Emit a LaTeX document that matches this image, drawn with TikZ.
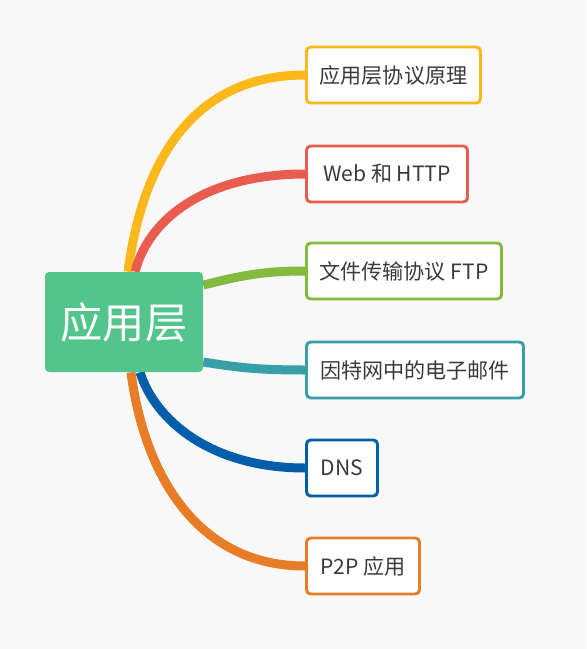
\documentclass[tikz,border=0pt]{standalone}
\usepackage{fontspec}
\setmainfont{Noto Sans CJK SC}
\usetikzlibrary{positioning}
\usetikzlibrary{calc}
\usetikzlibrary{backgrounds}
\def\pxu{0.025cm}
\definecolor{bggrey}{HTML}{F8F8F8}
\definecolor{textgrey}{HTML}{3A3A3A}
\definecolor{rootgreen}{HTML}{52C48C}
\definecolor{cyellow}{HTML}{FBB81B}
\definecolor{cred}{HTML}{E85D50}
\definecolor{cgreen}{HTML}{84BA3F}
\definecolor{cteal}{HTML}{379FA7}
\definecolor{cblue}{HTML}{005EAA}
\definecolor{corange}{HTML}{E87D27}

\begin{document}
\begin{tikzpicture}[x=\pxu,y=-\pxu]
        \tikzstyle{root}=[fill=rootgreen,rounded corners=3pt,minimum width={158*\pxu},minimum height={100*\pxu},text=white,font=\fontsize{30}{36}\selectfont]
        \tikzstyle{topic}=[draw,line width=2.1pt,rounded corners=3pt,fill=white,minimum height={56*\pxu},inner xsep=0pt,anchor=west,text=textgrey,font=\fontsize{15}{18}\selectfont]
        \tikzstyle{branch}=[line width=6.4pt]

        \useasboundingbox (0,0) rectangle (586,649);

        % Draw the central topic
        \node[root] (R) at (124,322) {应用层};

        % Draw the sub topics
        \foreach \name/\y/\w/\col/\txt in {1/75/174/cyellow/应用层协议原理,
                                           2/174/161/cred/Web 和 HTTP,
                                           3/271/195/cgreen/文件传输协议 FTP,
                                           4/370/217/cteal/因特网中的电子邮件,
                                           5/468/71/cblue/DNS,
                                           6/566/113/corange/P2P 应用}
            \node[topic, draw=\col, minimum width={\w*\pxu}] (T-\name) at (305,\y) {\txt};

        % Connect the central topic with every sub topic
        \begin{scope}[on background layer]
            \fill[bggrey] (0,0) rectangle (586,649);
            \draw[branch, cyellow] ($(R.north)+(4,0)$) .. controls +(16,-122) and +(-104,0) .. (T-1.west);
            \draw[branch, cred] ($(R.north)+(11,0)$) .. controls +(15,-57) and +(-94,0) .. (T-2.west);
            \draw[branch, cgreen] ($(R.east)+(0,-37)$) .. controls +(37,-9) and +(-44,0) .. (T-3.west);
            \draw[branch, cteal] ($(R.east)+(0,40)$) .. controls +(37,6) and +(-44,0) .. (T-4.west);
            \draw[branch, cblue] ($(R.south)+(16,0)$) .. controls +(15,48) and +(-94,0) .. (T-5.west);
            \draw[branch, corange] ($(R.south)+(7,0)$) .. controls +(14,108) and +(-104,0) .. (T-6.west);
        \end{scope}

\end{tikzpicture}
\end{document}
